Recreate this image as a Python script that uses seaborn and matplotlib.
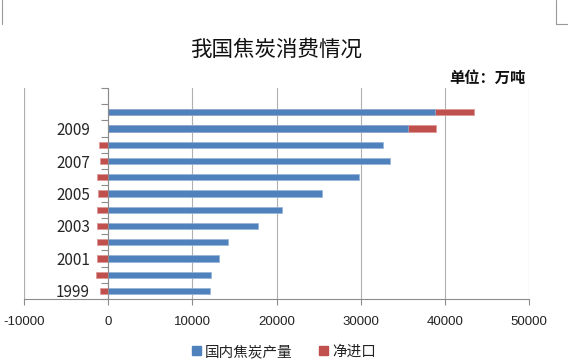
import numpy as np
import pandas as pd
import matplotlib
matplotlib.use("Agg")
import matplotlib.pyplot as plt
from matplotlib.lines import Line2D
import seaborn as sns

years = [1999, 2000, 2001, 2002, 2003, 2004, 2005, 2006, 2007, 2008, 2009, 2010]
production = [12100, 12180, 13130, 14270, 17750, 20670, 25460, 29800, 33530, 32650, 35580, 38860]
net_import = [-950, -1460, -1300, -1340, -1380, -1380, -1190, -1380, -950, -1030, 3400, 4660]
x_ticks = [-10000, 0, 10000, 20000, 30000, 40000, 50000]
title = "我国焦炭消费情况"
unit_text = "单位：万吨"
series_names = ["国内焦炭产量", "净进口"]

sns.set_theme(style="white")
plt.rcParams['font.family'] = ['Noto Sans CJK SC', 'DejaVu Sans']

blue = "#4F81BD"
red = "#C0504D"

prod = np.array(production, dtype=float)
imp = np.array(net_import, dtype=float)
# red bar: stacked on top of production when positive, from zero when negative
red_vals = np.where(imp > 0, prod + imp, imp)

cats = [str(y) for y in years]
order = cats[::-1]
df = pd.DataFrame({"year": cats, "prod": prod, "red": red_vals})

fig = plt.figure(figsize=(5.68, 3.59), dpi=100)
W, H = 568, 359
ax = fig.add_axes([24 / W, 60 / H, (529 - 24) / W, (299 - 88) / H])

sns.barplot(data=df, y="year", x="red", order=order, color=red, width=0.38,
            orient="h", ax=ax, saturation=1, edgecolor="#d99694", linewidth=0.5)
sns.barplot(data=df, y="year", x="prod", order=order, color=blue, width=0.38,
            orient="h", ax=ax, saturation=1, edgecolor="#95b3d7", linewidth=0.5)

ax.set_xlim(x_ticks[0], x_ticks[-1])
ax.set_ylim(len(order) - 0.5, -1.5)
ax.set_xlabel("")
ax.set_ylabel("")

ax.set_xticks(x_ticks)
ax.set_xticklabels([str(v) for v in x_ticks], fontsize=9.5, color="#222222",
                   family=['Liberation Sans', 'DejaVu Sans'])
ax.tick_params(axis="x", direction="out", length=4, width=0.8, color="#8c8c8c",
               bottom=True, pad=8)

# y labels every other category
label_pos = [i for i, c in enumerate(order) if c in cats[::2]]
ax.set_yticks(label_pos)
ax.set_yticklabels([order[i] for i in label_pos], fontsize=9.5, color="#222222",
                   family=['Liberation Sans', 'DejaVu Sans'])
ax.tick_params(axis="y", which="major", length=0, pad=13, left=False)
ax.set_yticks(np.arange(-1.5, len(order)), minor=True)
ax.tick_params(axis="y", which="minor", direction="out", length=5, width=0.8,
               color="#8c8c8c", left=True)

ax.grid(axis="x", color="#b0b0b0", linewidth=0.8)
ax.set_axisbelow(True)
for s in ["top", "right"]:
    ax.spines[s].set_visible(False)
ax.spines["left"].set_position(("data", 0))
ax.spines["left"].set_color("#8c8c8c")
ax.spines["left"].set_linewidth(0.8)
ax.spines["bottom"].set_color("#8c8c8c")
ax.spines["bottom"].set_linewidth(0.8)
ax.axvline(x_ticks[0], color="#8c8c8c", linewidth=0.8, zorder=0)

fig.text(276 / W, 1 - 50 / H, title, ha="center", va="center", fontsize=15.5,
         color="#111111")
fig.text(525 / W, 1 - 78 / H, unit_text, ha="right", va="center", fontsize=11,
         fontweight="bold", color="#111111")

handles = [plt.Rectangle((0, 0), 1, 1, color=blue), plt.Rectangle((0, 0), 1, 1, color=red)]
fig.legend(handles, series_names, loc="center", bbox_to_anchor=(284 / W, 1 - 352 / H),
           ncol=2, frameon=False, fontsize=10.5, handlelength=0.6, handleheight=0.6,
           handletextpad=0.3, columnspacing=1.8, labelcolor="#222222")

# page corner marks
g = "#999999"
fig.add_artist(Line2D([556 / W, 556 / W, 1], [1, 1 - 24 / H, 1 - 24 / H],
                      transform=fig.transFigure, color=g, linewidth=0.8))
fig.add_artist(Line2D([1.5 / W, 1.5 / W], [1, 1 - 24 / H],
                      transform=fig.transFigure, color=g, linewidth=0.8))

fig.savefig("out.png", dpi=100)
